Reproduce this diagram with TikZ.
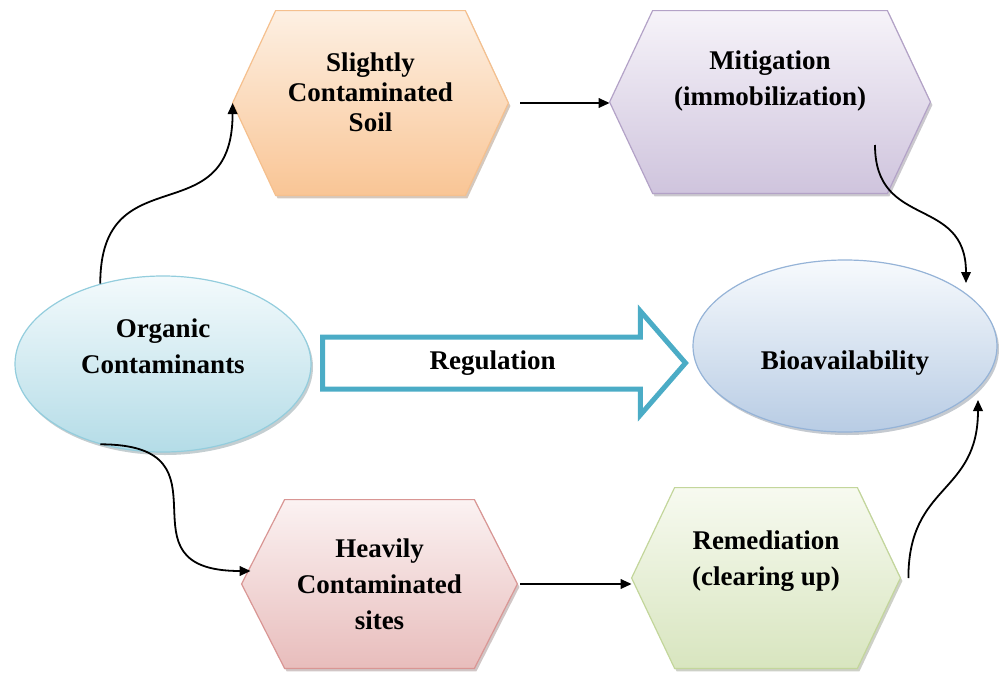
\documentclass[tikz,border=0pt]{standalone}
\usepackage{fontspec}
\setmainfont{Liberation Serif}
\usetikzlibrary{arrows.meta,calc,shapes.geometric,shapes.arrows,shadows}

\definecolor{orgTop}{HTML}{F3FAFC}\definecolor{orgBot}{HTML}{B4DCE7}\definecolor{orgLine}{HTML}{93CDDD}
\definecolor{bioTop}{HTML}{F7FAFD}\definecolor{bioBot}{HTML}{B8CCE4}\definecolor{bioLine}{HTML}{95B3D7}
\definecolor{slightTop}{HTML}{FDF0E3}\definecolor{slightBot}{HTML}{F9C595}\definecolor{slightLine}{HTML}{F5C08E}
\definecolor{mitTop}{HTML}{F6F3F9}\definecolor{mitBot}{HTML}{CFC4DD}\definecolor{mitLine}{HTML}{B3A2C7}
\definecolor{heavyTop}{HTML}{FBF2F2}\definecolor{heavyBot}{HTML}{E8BDBC}\definecolor{heavyLine}{HTML}{D99694}
\definecolor{remTop}{HTML}{F7FAF0}\definecolor{remBot}{HTML}{D8E5BF}\definecolor{remLine}{HTML}{C3D69B}
\definecolor{regLine}{HTML}{4BACC6}

\pgfdeclarelayer{back}
\pgfsetlayers{back,main}

\tikzset{>={Triangle[length=5.5pt,width=4.8pt]},
  every node/.style={font=\bfseries\fontsize{13.5}{18}\selectfont, align=center, inner sep=0pt},
  soft/.style={draw=#1Line, line width=.6pt, top color=#1Top, bottom color=#1Bot,
    drop shadow={shadow xshift=1pt, shadow yshift=-1.5pt, fill=#1Bot!60!black, opacity=.4}},
  blob/.style={ellipse, soft=#1},
  link/.style={->, line width=.9pt}}

\begin{document}
\begin{tikzpicture}[x=.5pt, y=-.5pt]
  \useasboundingbox (0,0) rectangle (1003,675);
  % ellipses
  \node[blob=org, minimum width=148pt, minimum height=88pt] (org) at (163,364) {Organic\\Contaminants\\~};
  \node[blob=bio, minimum width=152pt, minimum height=86pt, text height=25pt, text depth=2pt] (bio) at (845,346) {Bioavailability};
  % hexagons (outline drawn on the back layer)
  \node[minimum width=137.5pt, minimum height=92pt, font=\bfseries\fontsize{13.5}{15}\selectfont] (slight) at (370.5,103) {Slightly\\Contaminated\\Soil\\[-4pt]~};
  \node[minimum width=160pt, minimum height=91pt] (mit) at (770,102) {Mitigation\\(immobilization)\\[6pt]~};
  \node[minimum width=137.5pt, minimum height=84pt] (heavy) at (379.5,584) {Heavily\\Contaminated\\sites};
  \node[minimum width=134pt, minimum height=90pt] (rem) at (766,578) {Remediation\\(clearing up)\\[2pt]~};
  \begin{pgfonlayer}{back}
    \foreach \n in {slight,mit,heavy,rem}
      \path[soft=\n] (\n.west) -- ([xshift=21.5pt]\n.north west) -- ([xshift=-21.5pt]\n.north east)
        -- (\n.east) -- ([xshift=-21.5pt]\n.south east) -- ([xshift=21.5pt]\n.south west) -- cycle;
  \end{pgfonlayer}
  % regulation arrow
  \node[single arrow, draw=regLine, line width=2.5pt, fill=white, text height=9pt, text depth=3pt,
    inner ysep=5.75pt, minimum height=181.5pt, single arrow head extend=13pt,
    single arrow tip angle=98, anchor=tail] (reg) at (320,363) {Regulation};
  % links
  \draw[link] (org.128) .. controls +(0,-130) and +(0,133) .. (slight.west);
  \draw[link] ([xshift=6pt]slight.east) -- (mit.west |- slight.east);
  \draw[link] ($(mit.center)+(105,43)$) .. controls +(0,85) and +(0,-88) .. ($(bio.center)+(121,-63)$);
  \draw[link] (org.232) .. controls +(140,0) and +(-140,0) .. ($(heavy.west)+(9,-13)$);
  \draw[link] ([xshift=1.5pt]heavy.east) -- (heavy.east -| rem.west);
  \draw[link] ([xshift=4pt]rem.east) .. controls +(0,-95) and +(0,95) .. ($(bio.center)+(133,54)$);
\end{tikzpicture}
\end{document}
